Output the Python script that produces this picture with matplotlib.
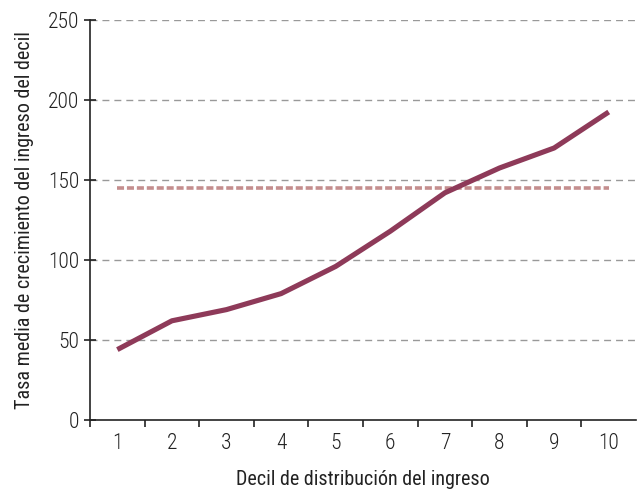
import matplotlib
matplotlib.use('Agg')
import matplotlib.pyplot as plt
import numpy as np

plt.rcParams['font.family'] = ['Roboto Condensed', 'DejaVu Sans']
plt.rcParams['font.weight'] = 'light'

# DATA
deciles = [1, 2, 3, 4, 5, 6, 7, 8, 9, 10]
growth = [44, 62, 69, 79, 96, 118, 142, 157.5, 170, 192.5]
mean_growth = 145
yticks = [0, 50, 100, 150, 200, 250]

fig = plt.figure(figsize=(6.44, 4.91), dpi=100)
ax = fig.add_axes([0.1398, 0.1446, 0.8478, 0.8147])

for y in yticks[1:]:
    ax.axhline(y, color='#999999', lw=1, ls=(0, (5, 3.6)), zorder=1)

ax.plot(deciles, growth, color='#8e3a59', lw=3.7, zorder=3, solid_capstyle='butt')
ax.plot([deciles[0], deciles[-1]], [mean_growth, mean_growth], color='#c48e8e',
        lw=2.6, ls=(0, (1.95, 0.8)), zorder=2)

ax.set_xlim(0.5, 10.5)
ax.set_ylim(0, 250)
ax.set_yticks(yticks)
ax.set_xticks(deciles)
ax.set_xticks(np.arange(0.5, 10, 1), minor=True)
ax.tick_params(axis='x', which='major', length=0, labelsize=15.5, pad=9, colors='#222222')
ax.tick_params(axis='x', which='minor', length=5, width=1.2, direction='out', color='#222222')
ax.tick_params(axis='y', length=8, width=1.2, labelsize=15.5, direction='inout', colors='#222222')

for s in ['top', 'right']:
    ax.spines[s].set_visible(False)
for s in ['left', 'bottom']:
    ax.spines[s].set_linewidth(1.2)
    ax.spines[s].set_color('#222222')

ax.set_xlabel('Decil de distribución del ingreso', fontsize=14.5, labelpad=12, color='#222222')
ax.set_ylabel('Tasa media de crecimiento del ingreso del decil', fontsize=14.5, labelpad=10,
              color='#222222')

fig.savefig('out.png', dpi=100)
